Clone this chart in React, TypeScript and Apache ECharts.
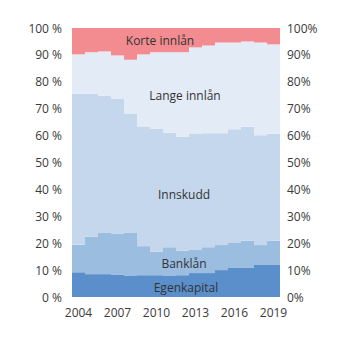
import React, { useEffect, useRef } from "react";
import * as echarts from "echarts";

const years = ["2004","2005","2006","2007","2008","2009","2010","2011","2012","2013","2014","2015","2016","2017","2018","2019"];
const egenkapital = [9.2,8.5,8.5,8.2,7.8,8.1,8.1,7.8,8.1,8.9,8.9,10.0,10.8,10.8,11.9,11.9];
const banklan = [10.2,13.9,15.5,15.2,16.2,10.8,8.7,10.7,9.1,8.6,9.6,9.3,9.3,10.1,7.4,9.0];
const innskudd = [56.1,53.1,50.8,50.4,44.2,44.5,45.7,42.6,42.5,43.1,42.4,41.6,42.3,42.4,40.8,39.8];
const langeInnlan = [14.7,15.5,16.5,16.0,20.0,26.8,28.5,29.9,31.3,32.2,32.6,33.7,32.2,31.7,34.5,33.2];
const korteInnlan = [9.8,9.0,8.7,10.2,11.8,9.8,9.0,9.0,9.0,7.2,6.5,5.4,5.4,5.0,5.4,6.1];

const FONT = "'Open Sans', sans-serif";

export default function App() {
  const ref = useRef<HTMLDivElement>(null);
  useEffect(() => {
    if (!ref.current) return;
    const chart = echarts.init(ref.current, null, { renderer: "svg" });
    const mk = (name: string, data: number[], color: string) => ({
      name,
      type: "bar",
      stack: "total",
      data,
      barCategoryGap: "0%",
      itemStyle: { color },
      emphasis: { disabled: true },
    });
    const textEl = (t: string, x: number, y: number) => ({
      type: "text",
      x,
      y,
      style: {
        text: t,
        fill: "#333",
        font: `12px ${FONT}`,
        align: "center",
        verticalAlign: "middle",
      },
      z: 100,
    });
    chart.setOption({
      animation: false,
      grid: { left: 72, right: 66, top: 28, bottom: 44 },
      xAxis: {
        type: "category",
        data: years,
        axisLine: { show: false },
        axisTick: { show: false },
        axisLabel: { interval: 2, color: "#3a3a3a", fontSize: 12, fontFamily: FONT, margin: 9 },
      },
      yAxis: [
        {
          type: "value",
          min: 0,
          max: 100,
          interval: 10,
          splitLine: { show: false },
          axisLabel: { formatter: "{value} %", color: "#3a3a3a", fontSize: 12, fontFamily: FONT, margin: 10 },
        },
        {
          type: "value",
          min: 0,
          max: 100,
          interval: 10,
          position: "right",
          splitLine: { show: false },
          axisLabel: { formatter: "{value}%", color: "#3a3a3a", fontSize: 12, fontFamily: FONT, margin: 7 },
        },
      ],
      series: [
        mk("Egenkapital", egenkapital, "#5b8fcb"),
        mk("Banklån", banklan, "#9bbde0"),
        mk("Innskudd", innskudd, "#c4d7ec"),
        mk("Lange innlån", langeInnlan, "#e3ebf6"),
        mk("Korte innlån", korteInnlan, "#f38c90"),
      ],
      graphic: [
        textEl("Korte innlån", 160, 40),
        textEl("Lange innlån", 185, 95),
        textEl("Innskudd", 184, 194),
        textEl("Banklån", 184, 263),
        textEl("Egenkapital", 186, 287),
      ],
    });
    return () => chart.dispose();
  }, []);
  return (
    <div
      ref={ref}
      style={{ position: "absolute", left: 0, top: 0, width: 346, height: 341, background: "#fff" }}
    />
  );
}
